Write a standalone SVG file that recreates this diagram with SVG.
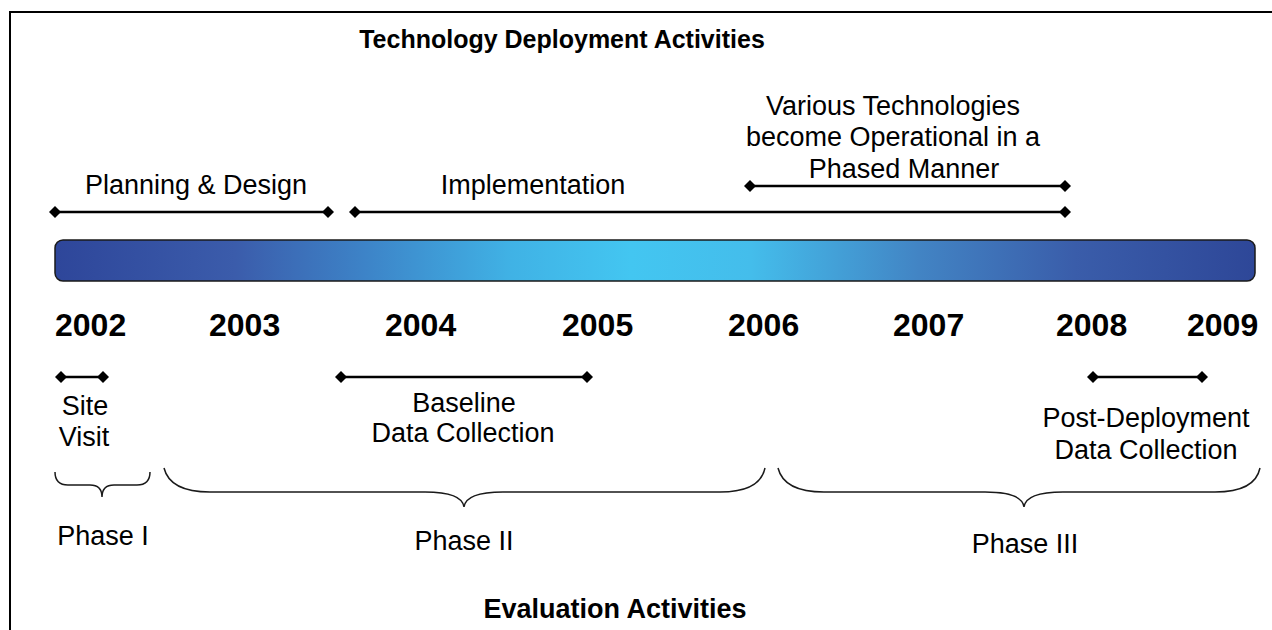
<svg xmlns="http://www.w3.org/2000/svg" width="1272" height="630" viewBox="0 0 1272 630">
  <style>
    .t { font-family: "Liberation Sans", Arial, sans-serif; font-size: 27px; fill: #000; }
    .b { font-family: "Liberation Sans", Arial, sans-serif; font-weight: bold; fill: #000; }
    .head { font-size: 25px; }
    .head2 { font-size: 27px; }
    .yr { font-size: 32px; }
    .span { stroke: #000; stroke-width: 2.5; fill: none; marker-start: url(#dia); marker-end: url(#dia); }
    .brace { stroke: #1a1a1a; stroke-width: 1.5; fill: none; }
  </style>
  <defs>
    <marker id="dia" viewBox="-6 -6 12 12" markerWidth="12" markerHeight="12" markerUnits="userSpaceOnUse" refX="0" refY="0" orient="auto">
      <path d="M-6,0 L0,-6 L6,0 L0,6 Z" fill="#000"/>
    </marker>
    <linearGradient id="bar" x1="0" y1="0" x2="1" y2="0">
      <stop offset="0" stop-color="#2E469A"/>
      <stop offset="0.15" stop-color="#3B5CAB"/>
      <stop offset="0.26" stop-color="#3D84C8"/>
      <stop offset="0.38" stop-color="#40B2E5"/>
      <stop offset="0.48" stop-color="#43C6F1"/>
      <stop offset="0.58" stop-color="#44BDEB"/>
      <stop offset="0.72" stop-color="#4284C4"/>
      <stop offset="0.85" stop-color="#3A5DAA"/>
      <stop offset="1" stop-color="#2E4798"/>
    </linearGradient>
  </defs>

  <rect width="1272" height="630" fill="#fff"/>
  <!-- outer frame (open to the right and bottom) -->
  <path d="M10,630 V12 H1272" fill="none" stroke="#000" stroke-width="2"/>

  <g id="heading-top"><text class="b head" x="562" y="48" text-anchor="middle">Technology Deployment Activities</text></g>
  <g id="heading-bottom"><text class="b head2" x="615" y="618" text-anchor="middle">Evaluation Activities</text></g>

  <!-- timeline bar -->
  <g id="timeline">
    <rect x="55" y="240" width="1200" height="41" rx="8" fill="url(#bar)" stroke="#1a1a1a" stroke-width="1.5"/>
  </g>

  <g id="years">
    <text class="b yr" x="55" y="336">2002</text>
    <text class="b yr" x="209" y="336">2003</text>
    <text class="b yr" x="385" y="336">2004</text>
    <text class="b yr" x="562" y="336">2005</text>
    <text class="b yr" x="728" y="336">2006</text>
    <text class="b yr" x="893" y="336">2007</text>
    <text class="b yr" x="1056" y="336">2008</text>
    <text class="b yr" x="1187" y="336">2009</text>
  </g>

  <!-- deployment activities -->
  <g id="planning"><text class="t" x="196" y="194" text-anchor="middle">Planning &amp; Design</text></g>
  <g id="implementation"><text class="t" x="533" y="194" text-anchor="middle">Implementation</text></g>
  <g id="operational">
    <text class="t" x="893" y="115" text-anchor="middle">Various Technologies</text>
    <text class="t" x="893" y="146" text-anchor="middle">become Operational in a</text>
    <text class="t" x="904" y="178" text-anchor="middle">Phased Manner</text>
  </g>

  <!-- evaluation activities -->
  <g id="site-visit">
    <text class="t" x="85" y="415" text-anchor="middle">Site</text>
    <text class="t" x="84" y="446" text-anchor="middle">Visit</text>
  </g>
  <g id="baseline">
    <text class="t" x="464" y="412" text-anchor="middle">Baseline</text>
    <text class="t" x="463" y="442" text-anchor="middle">Data Collection</text>
  </g>
  <g id="post-deployment">
    <text class="t" x="1146" y="427" text-anchor="middle">Post-Deployment</text>
    <text class="t" x="1146" y="459" text-anchor="middle">Data Collection</text>
  </g>

  <!-- phases -->
  <g id="phase-1">
    <path class="brace" d="M55,472 Q55,485 68,485 H90 Q102,485 102,497 Q102,485 114,485 H137 Q150,485 150,472"/>
    <text class="t" x="103" y="545" text-anchor="middle">Phase I</text>
  </g>
  <g id="phase-2">
    <path class="brace" d="M164,468 Q170,492 210,492 H425 Q462,492 464,507 Q466,492 503,492 H720 Q760,492 765,468"/>
    <text class="t" x="464" y="550" text-anchor="middle">Phase II</text>
  </g>
  <g id="phase-3">
    <path class="brace" d="M778,468 Q784,492 824,492 H985 Q1022,492 1024,507 Q1026,492 1063,492 H1215 Q1255,492 1260,468"/>
    <text class="t" x="1025" y="553" text-anchor="middle">Phase III</text>
  </g>

  <!-- span connectors -->
  <g id="connectors">
    <line class="span" x1="55" y1="212" x2="328" y2="212"/>
    <line class="span" x1="355" y1="212" x2="1065" y2="212"/>
    <line class="span" x1="750" y1="186" x2="1065" y2="186"/>
    <line class="span" x1="61" y1="377" x2="103" y2="377"/>
    <line class="span" x1="341" y1="377" x2="587" y2="377"/>
    <line class="span" x1="1093" y1="377" x2="1202" y2="377"/>
  </g>
</svg>
